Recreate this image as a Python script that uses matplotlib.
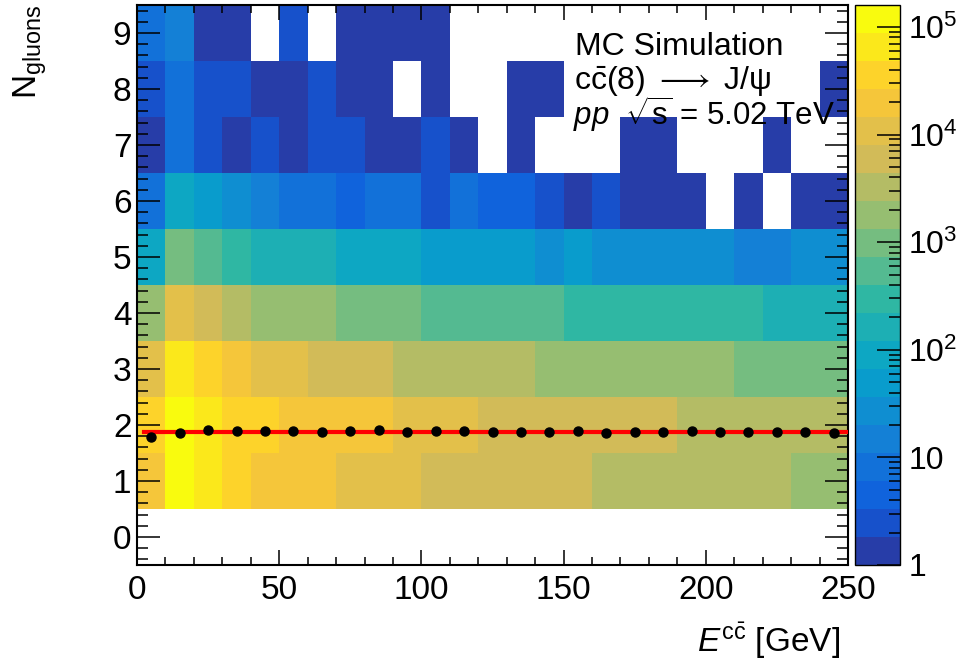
import numpy as np
import matplotlib
matplotlib.use('Agg')
import matplotlib.pyplot as plt
from matplotlib.colors import LinearSegmentedColormap, ListedColormap, LogNorm
from matplotlib.ticker import MultipleLocator, LogLocator, NullFormatter

plt.rcParams['font.family'] = ['Liberation Sans', 'DejaVu Sans']
plt.rcParams['mathtext.fontset'] = 'custom'
plt.rcParams['mathtext.rm'] = 'Liberation Sans'
plt.rcParams['mathtext.it'] = 'Liberation Sans:italic'
plt.rcParams['mathtext.bf'] = 'Liberation Sans:bold'

# binning
e_edges = np.arange(0, 260, 10)
n_edges = np.arange(-0.5, 10.5, 1)

# counts per N_gluons row (E bins 0-10, 10-20, ..., 240-250)
n0 = [0] * 25
n1 = [21000, 121000, 71000, 38000, 24000, 20500, 17000, 12600, 11000, 9000, 7200, 6500, 6000,
      5400, 5000, 4600, 4100, 3800, 3500, 3200, 3000, 2800, 2600, 2300, 2100]
n2 = [30000, 140000, 78000, 43000, 30000, 25000, 22000, 19000, 16000, 14000, 11500, 9500, 7800,
      7200, 6600, 6100, 5600, 5100, 4600, 4200, 3900, 3600, 3300, 3000, 2700]
n3 = [9000, 55000, 31000, 17000, 12000, 9000, 7000, 6000, 5000, 4200, 3800, 3400, 3000,
      2600, 2300, 2100, 1950, 1800, 1650, 1500, 1400, 1250, 1100, 1000, 900]
n4 = [1600, 9500, 5200, 3000, 2100, 1800, 1500, 1200, 1000, 850, 680, 600, 540,
      480, 430, 380, 350, 320, 290, 270, 250, 230, 200, 180, 160]
n5 = [100, 800, 450, 260, 180, 150, 130, 110, 95, 80, 62, 55, 48,
      42, 34, 40, 32, 29, 27, 25, 22, 18, 16, 23, 21]
n6 = [9, 75, 45, 25, 13, 10, 8, 5, 9, 7, 3, 8, 5,
      4, 3, 1, 2, 1, 1, 1, 0, 1, 0, 1, 1]
n7 = [1, 7, 2, 1, 3, 1, 2, 2, 1, 1, 2, 1, 0,
      1, 0, 0, 0, 1, 1, 0, 0, 0, 1, 0, 0]
n8 = [2, 8, 3, 2, 1, 1, 2, 1, 1, 0, 1, 0, 0,
      1, 1, 0, 0, 0, 0, 0, 0, 0, 0, 0, 1]
n9 = [7, 12, 1, 1, 0, 2, 0, 1, 1, 1, 1, 0, 0,
      0, 0, 0, 0, 0, 0, 0, 0, 0, 0, 0, 0]

# profile (mean N_gluons per E bin) and constant fit
e_centers = np.arange(5, 250, 10)
mean_n = [1.79, 1.865, 1.905, 1.90, 1.90, 1.90, 1.875, 1.90, 1.905, 1.875, 1.89, 1.893, 1.875,
          1.88, 1.88, 1.90, 1.85, 1.88, 1.87, 1.89, 1.875, 1.87, 1.88, 1.88, 1.855]
fit_x = [2.5, 250]
fit_value = 1.88

counts = np.ma.masked_less_equal(np.array([n0, n1, n2, n3, n4, n5, n6, n7, n8, n9], float), 0)

# ROOT kBird palette, 20 contour levels
stops = [0.0, 0.125, 0.25, 0.375, 0.5, 0.625, 0.75, 0.875, 1.0]
red = [0.2082, 0.0592, 0.0780, 0.0232, 0.1802, 0.5301, 0.8186, 0.9956, 0.9764]
green = [0.1664, 0.3599, 0.5041, 0.6419, 0.7178, 0.7492, 0.7328, 0.7862, 0.9832]
blue = [0.5293, 0.8684, 0.8385, 0.7914, 0.6425, 0.4662, 0.3499, 0.1968, 0.0539]
bird = LinearSegmentedColormap.from_list('bird', list(zip(stops, zip(red, green, blue))))
ncont = 20
cmap = ListedColormap([bird(int((i + 0.99) * 255 / ncont) / 254) for i in range(ncont)])
cmap.set_bad('white')
norm = LogNorm(vmin=1, vmax=1.6e5)

fig = plt.figure(figsize=(9.63, 6.66), dpi=100)
ax = fig.add_axes([137 / 963, 101 / 666, 711 / 963, 560 / 666])
mesh = ax.pcolormesh(e_edges, n_edges, counts, cmap=cmap, norm=norm)

ax.plot(fit_x, [fit_value, fit_value], color='red', lw=3, zorder=3)
ax.plot(e_centers, mean_n, 'o', color='black', ms=6.5, zorder=4)

ax.set_xlim(0, 250)
ax.set_ylim(-0.5, 9.5)
ax.xaxis.set_major_locator(MultipleLocator(50))
ax.xaxis.set_minor_locator(MultipleLocator(10))
ax.yaxis.set_major_locator(MultipleLocator(1))
ax.yaxis.set_minor_locator(MultipleLocator(0.2))
ax.tick_params(which='both', direction='in', top=True, right=True, labelsize=24, width=1.1)
ax.tick_params(axis='x', which='major', length=11, pad=7)
ax.tick_params(axis='x', which='minor', length=5.5)
ax.tick_params(axis='y', which='major', length=16.5, pad=4)
ax.tick_params(axis='y', which='minor', length=8)
for s in ax.spines.values():
    s.set_linewidth(1.5)

fig.text(575 / 963, 1 - 55 / 666, 'MC Simulation', fontsize=23, va='baseline')
fig.text(574 / 963, 1 - 90 / 666, r'c$\bar{\mathrm{c}}$(8) $\longrightarrow$ J/ψ', fontsize=23,
         va='baseline')
fig.text(573 / 963, 1 - 125 / 666, r'$\mathit{pp}$  $\sqrt{\mathrm{s}}$ = 5.02 TeV',
         fontsize=22.5, va='baseline')

fig.text(37 / 963, 1 - 5 / 666, r'N$_{\mathrm{gluons}}$', fontsize=24, rotation=90,
         rotation_mode='anchor', ha='right', va='baseline')
fig.text(840 / 963, 1 - 652 / 666, r'$E^{\mathrm{c\bar{c}}}$ [GeV]', fontsize=24,
         ha='right', va='baseline')

cax = fig.add_axes([855 / 963, 101 / 666, 45 / 963, 560 / 666])
cb = fig.colorbar(mesh, cax=cax)
cb.outline.set_linewidth(1)
cb.set_ticks([1, 10, 1e2, 1e3, 1e4, 1e5])
cb.set_ticklabels(['1', '10', r'$10^{2}$', r'$10^{3}$', r'$10^{4}$', r'$10^{5}$'])
cax.yaxis.set_minor_locator(LogLocator(subs=np.arange(2, 10)))
cax.yaxis.set_minor_formatter(NullFormatter())
cax.tick_params(which='both', direction='in', labelsize=23, width=1.1)
cax.tick_params(which='major', length=16.5, pad=6)
cax.tick_params(which='minor', length=8)

fig.savefig('out.png', dpi=100)
